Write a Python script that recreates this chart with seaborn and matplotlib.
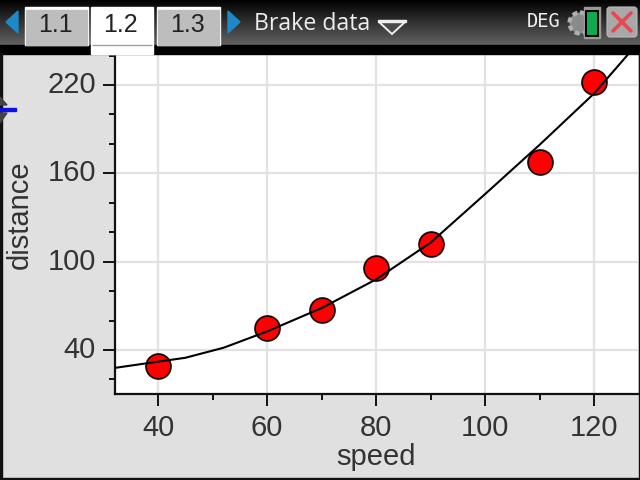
import matplotlib
matplotlib.use("Agg")
import matplotlib.pyplot as plt
import numpy as np
import pandas as pd
import seaborn as sns
from matplotlib.patches import Rectangle, Polygon, FancyBboxPatch, Circle
from matplotlib.transforms import ScaledTranslation

speed = [40, 60, 70, 80, 90, 110, 120]
distance = [29, 55, 67, 96, 112, 168, 222]
fit_speed = [32, 38, 45, 52, 60, 70, 80, 90, 100, 110, 120, 126.4]
fit_distance = [27.8, 31, 34.7, 41.5, 52.6, 68.5, 88, 113, 146, 179.5, 214.4, 241.7]
x_major = [40, 60, 80, 100, 120]
x_minor = [50, 70, 90, 110]
y_major = [40, 100, 160, 220]
y_minor = [20, 60, 80, 120, 140, 180, 200, 240]
tabs = ["1.1", "1.2", "1.3"]
title = "Brake data"

FONT = "Liberation Sans"
sns.set_theme(style="white")
plt.rcParams["font.family"] = [FONT, "DejaVu Sans"]

fig = plt.figure(figsize=(6.4, 4.8), dpi=100, facecolor="#E0E0E0")
ax = fig.add_axes([114.7 / 640, (480 - 394) / 480, (638 - 114.7) / 640, (394 - 53) / 480])
ax.set_facecolor("white")

points = pd.DataFrame({"speed": speed, "distance": distance})
fit = pd.DataFrame({"speed": fit_speed, "distance": fit_distance})
sns.scatterplot(data=points, x="speed", y="distance", ax=ax, s=320, color="#FF0000",
                edgecolor="#1a0000", linewidth=1.3, zorder=3, clip_on=False)
sns.lineplot(data=fit, x="speed", y="distance", ax=ax, color="black", linewidth=1.5,
             zorder=4, sort=False, estimator=None)

ax.set_xlim(32.05, 128)
ax.set_ylim(10.1, 241.7)
ax.set_xticks(x_major)
ax.set_xticks(x_minor, minor=True)
ax.set_yticks(y_major)
ax.set_yticks(y_minor, minor=True)
ax.grid(True, which="major", color="#E2E2E2", linewidth=1.6, zorder=0)
ax.set_axisbelow(True)
ax.tick_params(axis="both", which="major", length=8.6, width=1.4, color="#111111",
               labelsize=21, labelcolor="#333333", bottom=True, left=True)
ax.tick_params(axis="x", which="major", pad=5.5)
ax.tick_params(axis="y", which="major", pad=5)
ax.tick_params(axis="both", which="minor", length=4.3, width=1.4, color="#111111",
               bottom=True, left=True)
for tick_label in ax.get_yticklabels():
    tick_label.set_transform(tick_label.get_transform() + ScaledTranslation(0, 3 / 100, fig.dpi_scale_trans))
for side in ["top", "right"]:
    ax.spines[side].set_visible(False)
for side in ["left", "bottom"]:
    ax.spines[side].set_linewidth(1.6)
    ax.spines[side].set_color("#111111")
ax.set_xlabel("speed", fontsize=21, color="#333333")
ax.set_ylabel("distance", fontsize=21, color="#333333")
ax.xaxis.set_label_coords((376 - 114.7) / (638 - 114.7), (394 - 457) / (394 - 53), ax.transAxes)
ax.xaxis.label.set_verticalalignment("center")
ax.yaxis.set_label_coords((20 - 114.7) / (638 - 114.7), (394 - 215) / (394 - 53), ax.transAxes)
ax.yaxis.label.set_verticalalignment("center")

# Application chrome, in pixel coordinates of the figure
ch = fig.add_axes([0, 0, 1, 1], zorder=10)
ch.set_xlim(0, 640)
ch.set_ylim(480, 0)
ch.axis("off")
ch.patch.set_alpha(0)

grad = np.linspace(0.0, 0.38, 46)[:, None]
ch.imshow(grad, extent=(0, 640, 45.5, 0), cmap="gray", vmin=0, vmax=1, aspect="auto", zorder=1)
ch.set_xlim(0, 640)
ch.set_ylim(480, 0)
ch.add_patch(Rectangle((0, 45), 640, 8.5, color="black", zorder=1.5))
ch.add_patch(Rectangle((0, 478), 640, 2, color="#111111", zorder=2))
ch.add_patch(Rectangle((0, 53), 1.5, 427, color="#111111", zorder=2))
ch.add_patch(Rectangle((638.5, 53), 1.5, 427, color="#111111", zorder=2))

tab_x = [(26, 87), (92, 152), (158, 219)]
for label, (x0, x1) in zip(tabs, tab_x):
    active = label == "1.2"
    y1 = 53.5 if active else 45
    ch.add_patch(Rectangle((x0 - 1, 7), x1 - x0 + 2, y1 - 7, color="white", zorder=2))
    ch.add_patch(Rectangle((x0, 10), x1 - x0, y1 - 10,
                           color="white" if active else "#BDBDBD", zorder=2.1))
    ch.text((x0 + x1) / 2 - 1.5, 25.5, label, ha="center", va="center", fontsize=18,
            color="#222222", zorder=3)
ch.add_patch(Rectangle((92, 44.5), 60, 0.8, color="#a0a0a0", zorder=2.2))

for pts in ([(18, 11), (18, 33), (6, 22)], [(228, 11), (228, 33), (240, 22)]):
    ch.add_patch(Polygon(pts, closed=True, color="#1E88C8", zorder=3))

ch.text(254, 24, title, ha="left", va="center", fontsize=16.7, color="#EDEDED",
        family=["Open Sans", "DejaVu Sans"], zorder=3)
ch.add_patch(Polygon([(379, 22), (405, 22), (392, 34)], closed=True, facecolor="#4a4a4a",
                     edgecolor="#EEEEEE", linewidth=1.4, zorder=3))
ch.add_patch(Rectangle((378, 19.5), 28, 2.4, color="#EEEEEE", zorder=3))
ch.text(544, 21.5, "DEG", ha="center", va="center", fontsize=13.5, color="#EEEEEE",
        family=["DejaVu Sans Mono"], zorder=3)

ch.add_patch(Circle((580, 23), 10.5, facecolor="#8a8a8a", edgecolor="#b0b0b0", linewidth=3,
                    linestyle=(0, (1.2, 0.8)), zorder=3))
ch.add_patch(Rectangle((584, 7), 16, 31, color="#9A9A9A", zorder=3.1))
ch.add_patch(Rectangle((586, 11), 12, 25, facecolor="#10A850", edgecolor="black", linewidth=1.4,
                       zorder=3.2))
ch.add_patch(FancyBboxPatch((609, 9), 26, 26, boxstyle="round,pad=2,rounding_size=3",
                            facecolor="#A8A8A8", edgecolor="#BBBBBB", linewidth=0.8, zorder=3))
ch.plot([613, 631], [13, 31], color="#E8474F", linewidth=2.6, zorder=3.3)
ch.plot([631, 613], [13, 31], color="#E8474F", linewidth=2.6, zorder=3.3)

ch.add_patch(Polygon([(0, 97), (7, 105), (0, 105)], closed=True, color="#444444", zorder=3))
ch.add_patch(Polygon([(0, 123), (7, 113), (0, 113)], closed=True, color="#444444", zorder=3))
ch.add_patch(Rectangle((0, 107.5), 16, 3, color="#1010E0", zorder=3.1))

fig.savefig("out.png", dpi=100, facecolor=fig.get_facecolor())
